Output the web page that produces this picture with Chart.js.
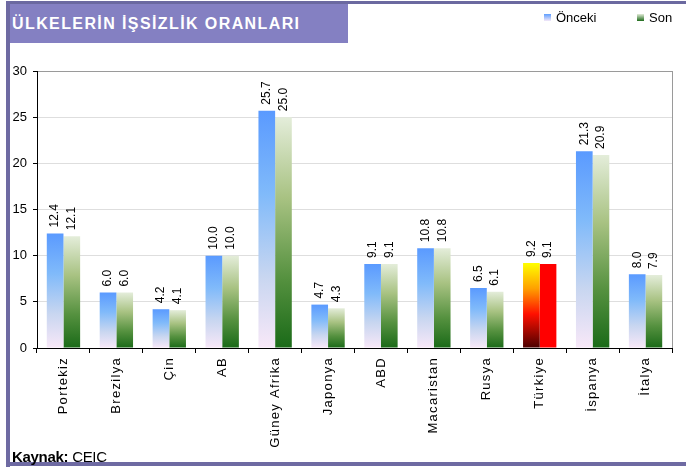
<!DOCTYPE html>
<html>
<head>
<meta charset="utf-8">
<script src="https://cdn.jsdelivr.net/npm/chart.js@4/dist/chart.umd.min.js"></script>
<style>
  html, body { margin: 0; padding: 0; background: #fff; }
  #wrap { position: relative; width: 686px; height: 468px; overflow: hidden; font-family: Arial, "Liberation Sans", sans-serif; }
  #chart { position: absolute; left: 0; top: 0; }
  .frameTop { position: absolute; left: 6px; top: 1px; width: 680px; height: 3px; background: #6b69a0; }
  .frameLeft { position: absolute; left: 6px; top: 1px; width: 4px; height: 466px; background: #6e6aa2; }
  .frameBottom { position: absolute; left: 6px; top: 462px; width: 680px; height: 4px; background: #6e6aa2; }
  #title { position: absolute; left: 10px; top: 4px; width: 338px; height: 39px; background: #8480c2;
           color: #fff; font-weight: bold; font-size: 16px; letter-spacing: 1.4px; line-height: 39px; padding-left: 2px; box-sizing: border-box; }
  .leg { position: absolute; top: 10px; font-size: 13px; color: #000; }
  .leg i { display: inline-block; width: 7px; height: 7px; margin-right: 5px; vertical-align: 1px; }
  #kaynak { position: absolute; left: 12px; top: 448px; font-size: 15px; color: #000; white-space: nowrap; letter-spacing: -0.3px; }
</style>
</head>
<body>
<div id="wrap">
  <canvas id="chart" width="686" height="468"></canvas>
  <div class="frameTop"></div>
  <div class="frameLeft"></div>
  <div class="frameBottom"></div>
  <div id="title">ÜLKELERİN İŞSİZLİK ORANLARI</div>
  <div class="leg" style="left:544px"><i style="background:linear-gradient(#5e9eff,#f4e8f8)"></i>Önceki</div>
  <div class="leg" style="left:637px"><i style="background:linear-gradient(#e2ebd8,#1e6b1a)"></i>Son</div>
  <div id="kaynak"><b>Kaynak:</b> CEIC</div>
</div>
<script>
// Categories and values
const countries = ['Portekiz', 'Brezilya', 'Çin', 'AB', 'Güney Afrika', 'Japonya', 'ABD', 'Macaristan', 'Rusya', 'Türkiye', 'İspanya', 'İtalya'];
const oncekiValues = [12.4, 6.0, 4.2, 10.0, 25.7, 4.7, 9.1, 10.8, 6.5, 9.2, 21.3, 8.0];
const sonValues = [12.1, 6.0, 4.1, 10.0, 25.0, 4.3, 9.1, 10.8, 6.1, 9.1, 20.9, 7.9];
const yTicks = [0, 5, 10, 15, 20, 25, 30];

const highlight = 'Türkiye';

// gradient stops, top -> bottom of each bar
const blueStops = [[0, '#5a9aff'], [0.35, '#80bafa'], [0.7, '#c8d6f0'], [1, '#f8e8f8']];
const greenStops = [[0, '#e4edda'], [0.35, '#a8c282'], [0.7, '#55913f'], [1, '#1a6a18']];
const hotStops = [[0, '#ffff00'], [0.3, '#ffa000'], [0.6, '#ff1000'], [1, '#4a0000']];

function barGradient(ctx, stops, fallback) {
	const chart = ctx.chart;
	const y = chart.scales && chart.scales.y;
	if (!y || !chart.chartArea || ctx.raw == null) return fallback;
	const top = y.getPixelForValue(ctx.raw);
	const bottom = y.getPixelForValue(0);
	if (!isFinite(top) || !isFinite(bottom) || top === bottom) return fallback;
	const g = chart.ctx.createLinearGradient(0, top, 0, bottom);
	stops.forEach(s => g.addColorStop(s[0], s[1]));
	return g;
}

// value labels, rotated, just above each bar
const valueLabels = {
	id: 'valueLabels',
	afterDatasetsDraw(chart) {
		const c = chart.ctx;
		c.save();
		c.font = '12px Arial, "Liberation Sans", sans-serif';
		c.fillStyle = '#000';
		c.textAlign = 'left';
		c.textBaseline = 'middle';
		chart.data.datasets.forEach((ds, i) => {
			chart.getDatasetMeta(i).data.forEach((bar, j) => {
				c.save();
				c.translate(bar.x, bar.y - 6);
				c.rotate(-Math.PI / 2);
				c.fillText(ds.data[j].toFixed(1), 0, 0);
				c.restore();
			});
		});
		c.restore();
	}
};

// thin gray line on the right side of the plot area
const plotFrame = {
	id: 'plotFrame',
	beforeDatasetsDraw(chart) {
		const a = chart.chartArea;
		const c = chart.ctx;
		c.save();
		c.strokeStyle = '#9a9a9a';
		c.lineWidth = 1;
		c.beginPath();
		c.moveTo(a.right + 0.5, a.top);
		c.lineTo(a.right + 0.5, a.bottom);
		c.stroke();
		c.restore();
	}
};

const chart = new Chart(document.getElementById('chart'), {
	type: 'bar',
	data: {
		labels: countries,
		datasets: [{
			label: 'Önceki',
			data: oncekiValues,
			backgroundColor: ctx => barGradient(ctx, countries[ctx.dataIndex] === highlight ? hotStops : blueStops, '#7fb4fa'),
			borderWidth: 0,
			categoryPercentage: 0.63,
			barPercentage: 1
		}, {
			label: 'Son',
			data: sonValues,
			backgroundColor: ctx => countries[ctx.dataIndex] === highlight ? '#ff0000' : barGradient(ctx, greenStops, '#6a9a50'),
			borderWidth: 0,
			categoryPercentage: 0.63,
			barPercentage: 1
		}]
	},
	options: {
		responsive: false,
		animation: false,
		layout: { padding: { left: 0, top: 71, right: 14, bottom: 0 } },
		plugins: {
			legend: { display: false },
			tooltip: { enabled: false }
		},
		scales: {
			y: {
				min: 0,
				max: 30,
				afterFit: s => { s.width = 37; },
				afterBuildTicks: s => { s.ticks = yTicks.map(v => ({ value: v })); },
				border: { color: '#000', width: 1 },
				grid: {
					color: ctx => ctx.tick && ctx.tick.value === 30 ? '#9a9a9a' : '#dedede',
					tickColor: '#000',
					tickLength: 4
				},
				ticks: {
					color: '#000',
					padding: 6,
					font: { family: 'Arial, "Liberation Sans", sans-serif', size: 13 }
				}
			},
			x: {
				afterFit: s => { s.height = 120; },
				border: { color: '#000', width: 1 },
				grid: {
					drawOnChartArea: false,
					tickColor: '#000',
					tickLength: 5
				},
				ticks: {
					color: '#000',
					autoSkip: false,
					minRotation: 90,
					maxRotation: 90,
					padding: 4,
					font: { family: 'Arial, "Liberation Sans", sans-serif', size: 13 }
				}
			}
		}
	},
	plugins: [plotFrame, valueLabels]
});

// category names in the original are widely spaced
const xScale = chart.scales.x;
const drawXLabels = xScale.drawLabels;
xScale.drawLabels = function (area) {
	const c = this.ctx;
	c.save();
	c.letterSpacing = '1.3px';
	drawXLabels.call(this, area);
	c.restore();
};
chart.draw();
</script>
</body>
</html>
